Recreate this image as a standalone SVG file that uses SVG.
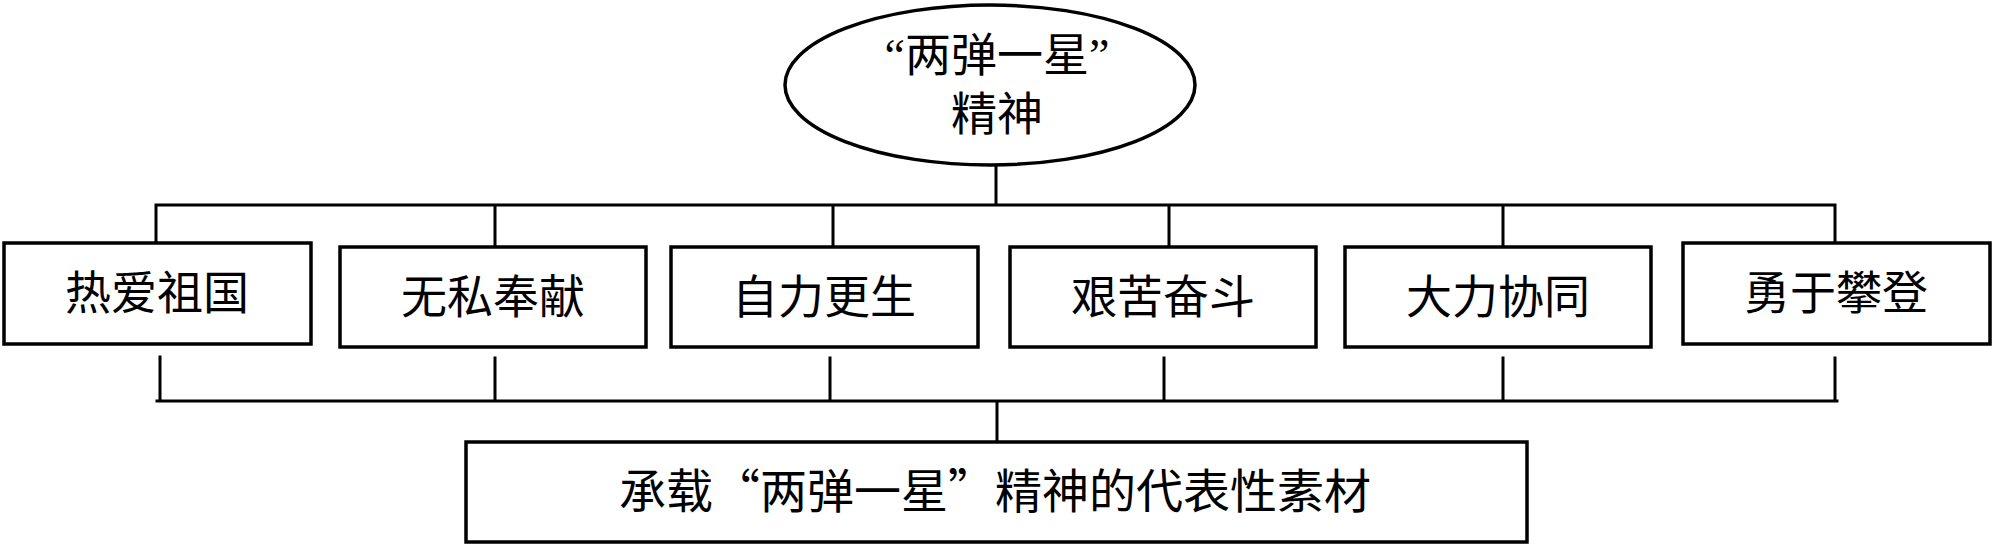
<svg xmlns="http://www.w3.org/2000/svg" width="2000" height="556" viewBox="0 0 2000 556">
<style>
.shape{fill:#fff;stroke:#000;stroke-width:3.5}
.conn{stroke:#000;stroke-width:3;fill:none;stroke-linecap:square}
.t{font-family:"Noto Sans CJK SC","Noto Sans CJK JP",sans-serif;font-size:46px;fill:#000;text-anchor:middle}
.te{font-family:"Liberation Serif","Noto Sans CJK SC",serif}
.tb{font-size:47px}
</style>
<rect width="2000" height="556" fill="#fff"/>
<g id="connectors">
<path class="conn" d="M996 166V205M156 205H1835M156 205V243M495 205V247M833 205V247M1169 205V247M1503 205V247M1835 205V243"/>
<path class="conn" d="M160 357V401M495 358V401M830 358V401M1164 358V401M1503 358V401M1835 358V401M157 401H1837M997 401V442"/>
</g>
<g id="root">
<ellipse class="shape" cx="990" cy="85" rx="205" ry="80"/>
<text class="t te" x="997" y="71">“两弹一星”</text>
<text class="t te" x="997" y="130">精神</text>
</g>
<g id="n1"><rect class="shape" x="4" y="243" width="307" height="101"/><text class="t" x="157" y="309">热爱祖国</text></g>
<g id="n2"><rect class="shape" x="340" y="247" width="306" height="100"/><text class="t" x="493" y="313">无私奉献</text></g>
<g id="n3"><rect class="shape" x="671" y="247" width="307" height="100"/><text class="t" x="824" y="313">自力更生</text></g>
<g id="n4"><rect class="shape" x="1010" y="247" width="306" height="100"/><text class="t" x="1163" y="313">艰苦奋斗</text></g>
<g id="n5"><rect class="shape" x="1345" y="247" width="306" height="100"/><text class="t" x="1498" y="313">大力协同</text></g>
<g id="n6"><rect class="shape" x="1683" y="243" width="307" height="101"/><text class="t" x="1836" y="309">勇于攀登</text></g>
<g id="bottom"><rect class="shape" x="466" y="442" width="1061" height="100"/><text class="t tb" x="995" y="508">承载“两弹一星”精神的代表性素材</text></g>
</svg>
